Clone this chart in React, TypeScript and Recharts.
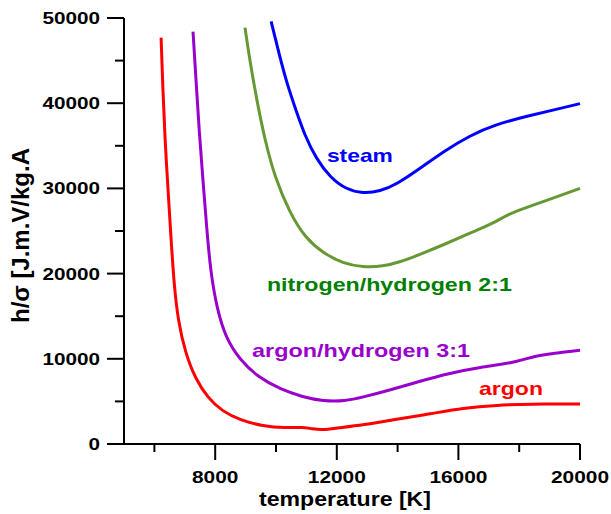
import React from 'react';
import { LineChart, Line, XAxis, YAxis, ReferenceDot } from 'recharts';

// temperature [K] / h/sigma values
const argonT = [6220, 6280, 6350, 6450, 6550, 6650, 6780, 7010, 7340, 7760, 8220, 8820, 9570, 10300, 10850, 11220, 11510, 12010, 12860, 13980, 15060, 16150, 17270, 18350, 20000];
const argonH = [47700, 41500, 35600, 29800, 23900, 18600, 14500, 10800, 7700, 5400, 3870, 2800, 2100, 1880, 2000, 1760, 1640, 1880, 2230, 2930, 3520, 4220, 4570, 4690, 4690];

const argonHydT = [7270, 7370, 7470, 7600, 7720, 7850, 8050, 8350, 8820, 9410, 10130, 10890, 11550, 12270, 12860, 13750, 14740, 15720, 16710, 17790, 18350, 19180, 20000];
const argonHydH = [48400, 42700, 36800, 30900, 25300, 20200, 16000, 12400, 9850, 7850, 6450, 5500, 5040, 5040, 5500, 6330, 7380, 8320, 9020, 9500, 10200, 10660, 11000];

const nitroT = [8980, 9140, 9370, 9640, 9970, 10460, 10950, 11550, 12200, 12860, 13520, 14080, 14740, 15620, 16380, 17140, 17470, 17790, 18910, 20000];
const nitroH = [48870, 45000, 40300, 35600, 31200, 27100, 24250, 22400, 21200, 20750, 20850, 21350, 22250, 23550, 24750, 25900, 26600, 27200, 28600, 30000];

const steamT = [9840, 10100, 10360, 10660, 10950, 11320, 11780, 12300, 12860, 13420, 13980, 14740, 15560, 16380, 17200, 18350, 19180, 20000];
const steamH = [49600, 45800, 42300, 39150, 36200, 33500, 31300, 29900, 29400, 29650, 30500, 32350, 34450, 36200, 37500, 38550, 39250, 39950];

const xTicks = [6000, 8000, 10000, 12000, 14000, 16000, 18000, 20000];
const yTicks = [0, 5000, 10000, 15000, 20000, 25000, 30000, 35000, 40000, 45000, 50000];

const toRows = (t: number[], h: number[]) => t.map((v, i) => ({ t: v, h: h[i] }));

const series = [
  { name: 'argon', data: toRows(argonT, argonH), color: '#ff0000' },
  { name: 'argon/hydrogen 3:1', data: toRows(argonHydT, argonHydH), color: '#9900cc' },
  { name: 'nitrogen/hydrogen 2:1', data: toRows(nitroT, nitroH), color: '#669933' },
  { name: 'steam', data: toRows(steamT, steamH), color: '#0000ff' },
];

const labels = [
  { text: 'steam', t: 12760, h: 33050, width: 66, color: '#0000ff' },
  { text: 'nitrogen/hydrogen 2:1', t: 13730, h: 17930, width: 245, color: '#008000' },
  { text: 'argon/hydrogen 3:1', t: 12800, h: 10200, width: 218, color: '#9900cc' },
  { text: 'argon', t: 17730, h: 5740, width: 64, color: '#ff0000' },
];

const FONT = '"Liberation Sans", Arial, sans-serif';

const XTick = (props: any) => {
  const { x, y, payload } = props;
  const major = payload.value % 4000 === 0;
  const s = String(payload.value);
  return (
    <g>
      <line x1={x} x2={x} y1={y} y2={y + (major ? 16 : 8)} stroke="#000" strokeWidth={2} />
      {major && (
        <text x={x} y={y + 39} textAnchor="middle" fontFamily={FONT} fontWeight="bold" fontSize={16}
          textLength={s.length * 11.6} lengthAdjust="spacingAndGlyphs" fill="#000">
          {s}
        </text>
      )}
    </g>
  );
};

const YTick = (props: any) => {
  const { x, y, payload } = props;
  const major = payload.value % 10000 === 0;
  const s = String(payload.value);
  return (
    <g>
      <line x1={x - (major ? 17 : 9)} x2={x} y1={y} y2={y} stroke="#000" strokeWidth={2} />
      {major && (
        <text x={x - 24} y={y + 6} textAnchor="end" fontFamily={FONT} fontWeight="bold" fontSize={16}
          textLength={s.length * 11.5} lengthAdjust="spacingAndGlyphs" fill="#000">
          {s}
        </text>
      )}
    </g>
  );
};

export default function App() {
  return (
    <div style={{ position: 'absolute', left: 0, top: 0, width: 611, height: 514, background: '#fff' }}>
      <LineChart width={611} height={514} margin={{ top: 18, right: 31, bottom: 0, left: 0 }}>
        <XAxis
          dataKey="t"
          type="number"
          domain={[5000, 20000]}
          ticks={xTicks}
          interval={0}
          height={70}
          tickSize={0}
          tickMargin={0}
          tickLine={false}
          tick={<XTick />}
          axisLine={{ stroke: '#000', strokeWidth: 2 }}
          allowDuplicatedCategory={false}
        />
        <YAxis
          type="number"
          domain={[0, 50000]}
          ticks={yTicks}
          interval={0}
          width={124}
          tickSize={0}
          tickMargin={0}
          tickLine={false}
          tick={<YTick />}
          axisLine={{ stroke: '#000', strokeWidth: 2 }}
        />
        {series.map((s) => (
          <Line
            key={s.name}
            data={s.data}
            dataKey="h"
            type="basis"
            stroke={s.color}
            strokeWidth={3}
            dot={false}
            isAnimationActive={false}
          />
        ))}
        {labels.map((l) => (
          <ReferenceDot
            key={l.text}
            x={l.t}
            y={l.h}
            r={0}
            shape={(p: any) => (
              <text x={p.cx} y={p.cy} textAnchor="middle" fontFamily={FONT} fontWeight="bold" fontSize={19}
                textLength={l.width} lengthAdjust="spacingAndGlyphs" fill={l.color}>
                {l.text}
              </text>
            )}
          />
        ))}
      </LineChart>
      <svg width={611} height={514} style={{ position: 'absolute', left: 0, top: 0, pointerEvents: 'none' }}>
        <text x={345} y={506} textAnchor="middle" fontFamily={FONT} fontWeight="bold" fontSize={20}
          textLength={172} lengthAdjust="spacingAndGlyphs" fill="#000">
          temperature [K]
        </text>
        <text transform="translate(29,235.5) rotate(-90)" textAnchor="middle" fontFamily={FONT} fontWeight="bold"
          fontSize={23} textLength={175} lengthAdjust="spacingAndGlyphs" fill="#000">
          h/σ [J.m.V/kg.A
        </text>
      </svg>
    </div>
  );
}
